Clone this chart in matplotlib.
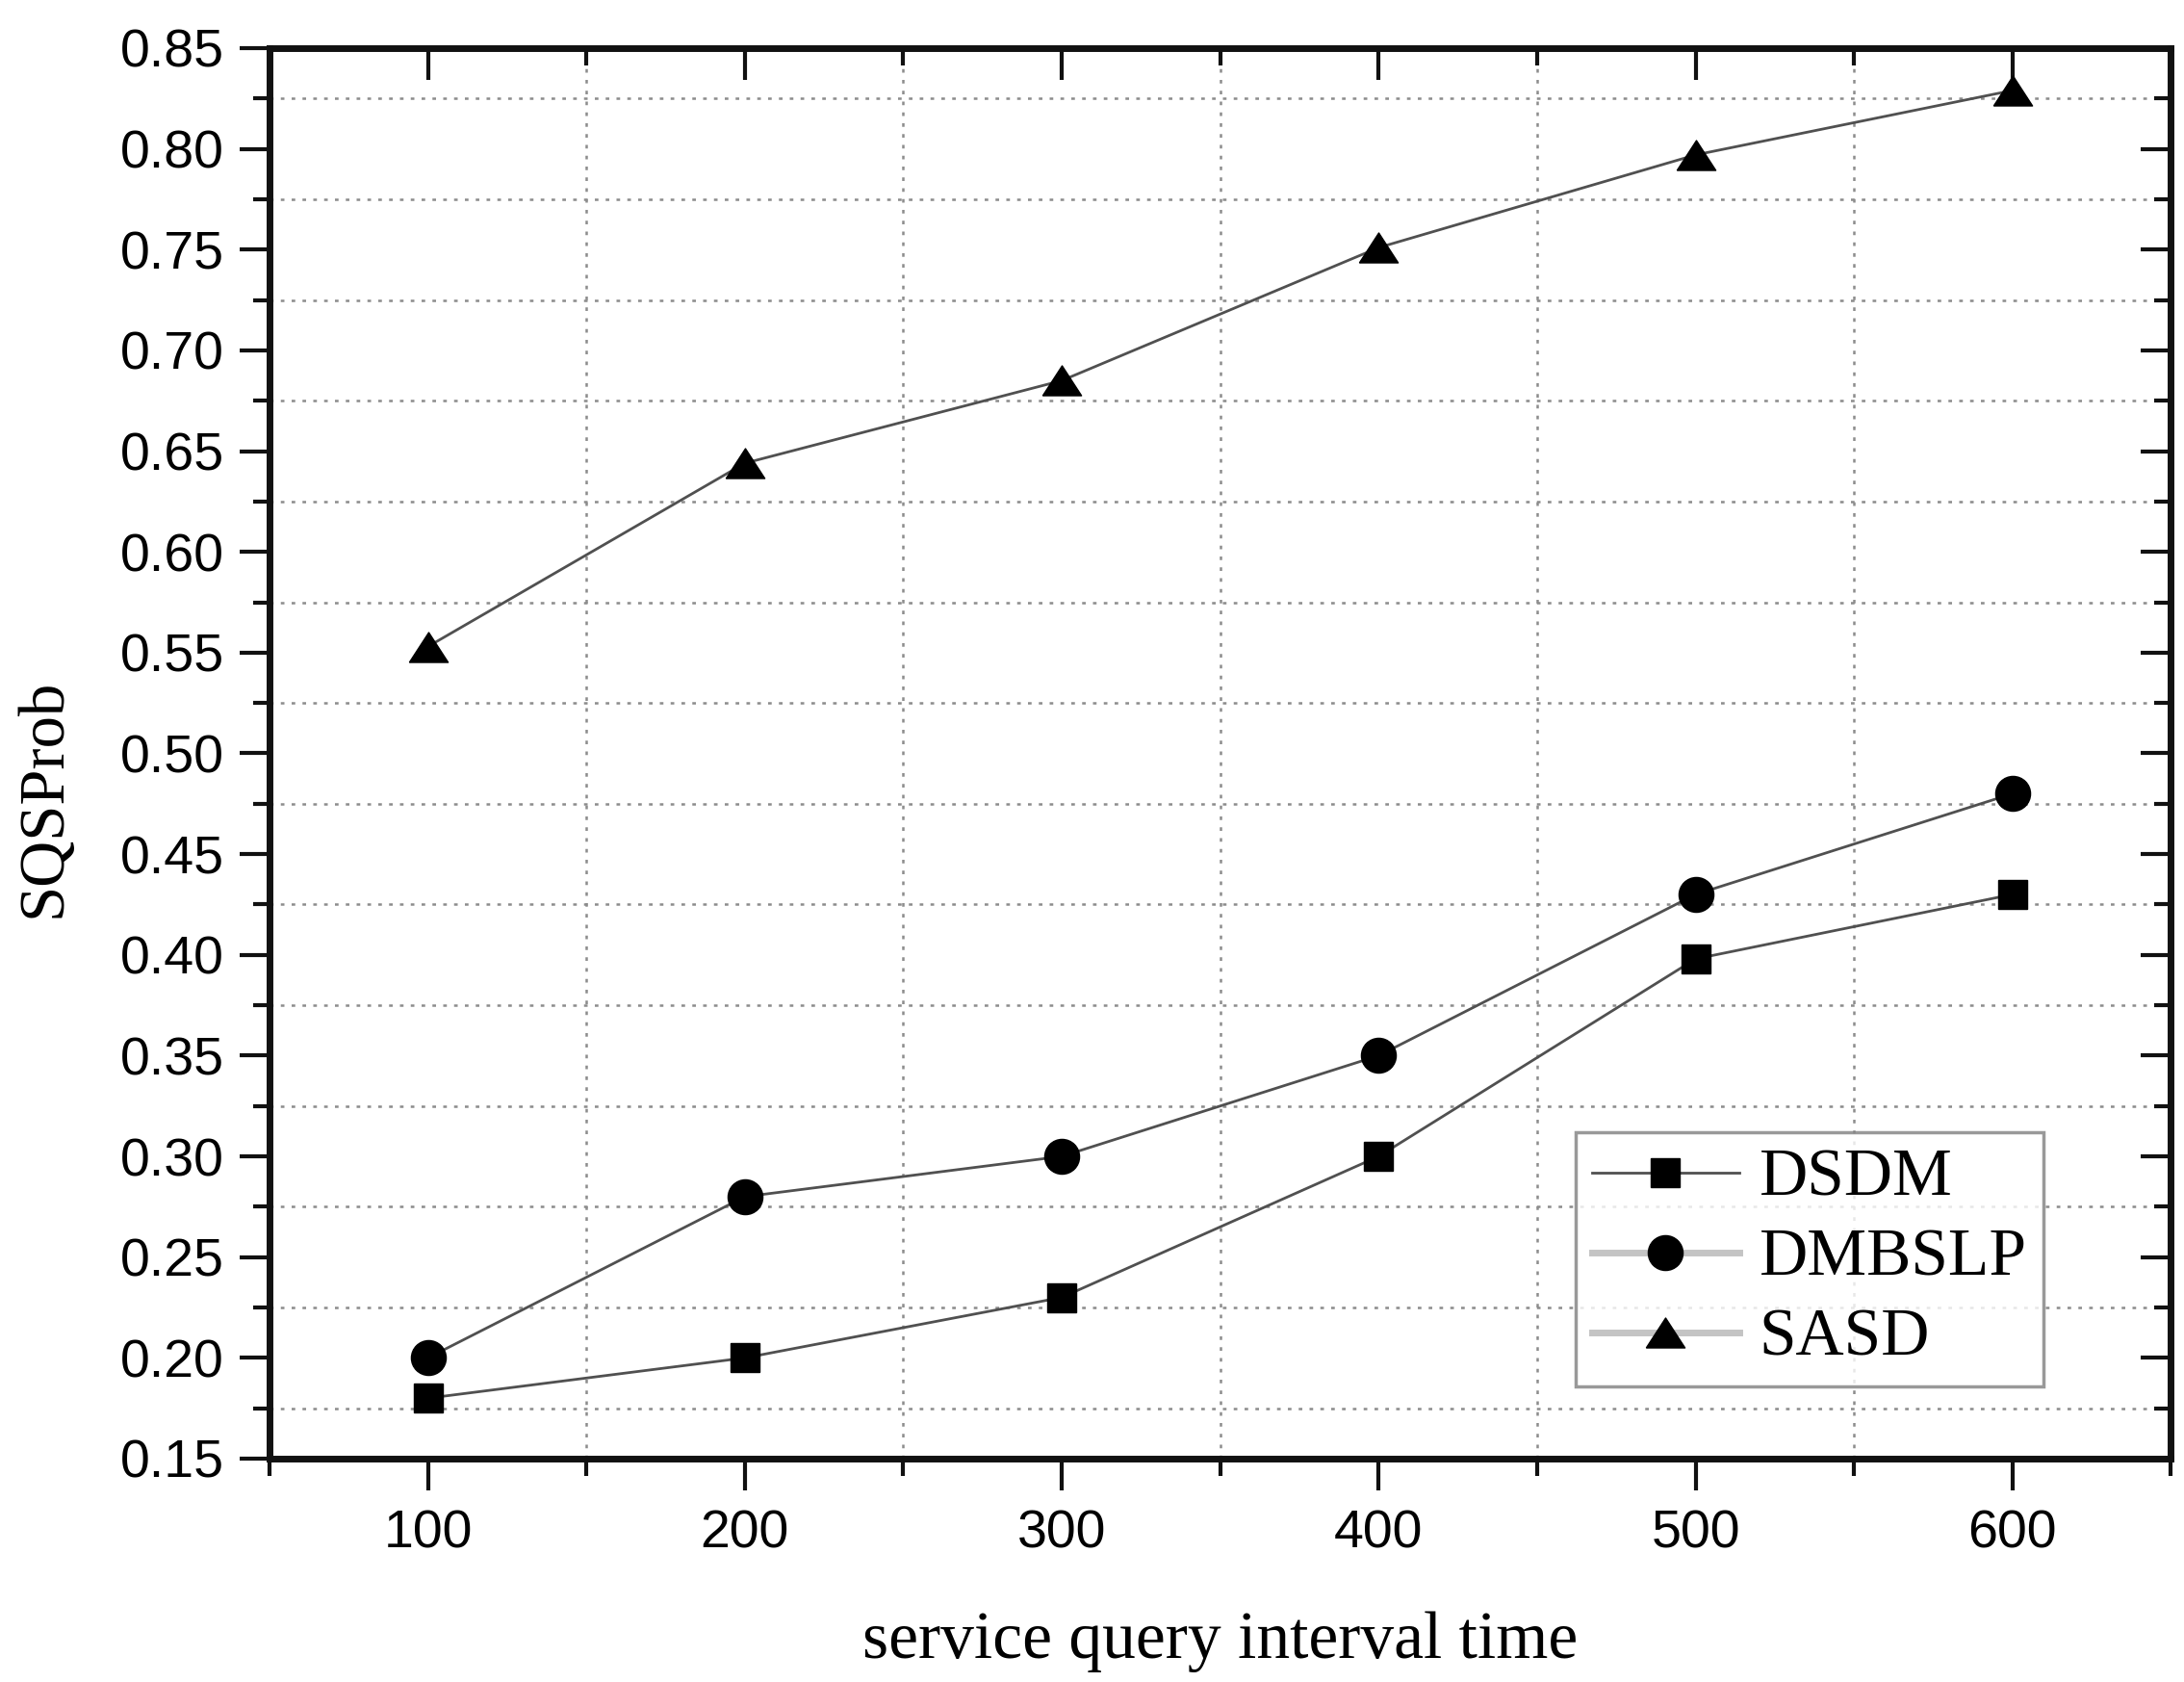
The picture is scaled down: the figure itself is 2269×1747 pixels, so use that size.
import matplotlib
matplotlib.use("Agg")
import matplotlib.pyplot as plt
from matplotlib.lines import Line2D
from matplotlib.ticker import MultipleLocator

# values
intervals = [100, 200, 300, 400, 500, 600]
dsdm = [0.18, 0.20, 0.23, 0.30, 0.398, 0.43]
dmbslp = [0.20, 0.28, 0.30, 0.35, 0.43, 0.48]
sasd = [0.553, 0.644, 0.685, 0.751, 0.797, 0.829]
series_names = ["DSDM", "DMBSLP", "SASD"]

sans = "Liberation Sans"
serif = "Liberation Serif"

# wide, short triangle like the Origin marker
tri = [(-1, -0.77), (1, -0.77), (0, 0.77), (-1, -0.77)]

fig = plt.figure(figsize=(22.69, 17.47), dpi=100)
ax = fig.add_axes([0.1234, 0.1328, 0.8706, 0.8386])

line_c = "#505050"
ax.plot(intervals, dsdm, color=line_c, lw=2, marker="s", ms=22,
        mfc="black", mec="black", zorder=3)
ax.plot(intervals, dmbslp, color=line_c, lw=2, marker="o", ms=26,
        mfc="black", mec="black", zorder=3)
ax.plot(intervals, sasd, color=line_c, lw=2, marker=tri, ms=29,
        mfc="black", mec="black", zorder=3)

ax.set_xlim(50, 650)
ax.set_ylim(0.15, 0.85)
ax.xaxis.set_major_locator(MultipleLocator(100))
ax.xaxis.set_minor_locator(MultipleLocator(50))
ax.yaxis.set_major_locator(MultipleLocator(0.05))
ax.yaxis.set_minor_locator(MultipleLocator(0.025))
ax.set_yticks([0.15 + 0.05 * i for i in range(15)])
ax.set_yticklabels([f"{0.15 + 0.05 * i:.2f}" for i in range(15)])

ax.grid(which="minor", color="#8c8c8c", lw=1.8, linestyle=(0, (1.5, 3)))
ax.grid(which="major", visible=False)

for s in ax.spines.values():
    s.set_linewidth(5)
    s.set_color("#111111")

ax.tick_params(axis="both", which="both", top=True, right=True,
               color="#111111", labelsize=40)
ax.tick_params(axis="x", which="major", direction="out", length=24, width=3, pad=14)
ax.tick_params(axis="x", which="minor", direction="out", length=13, width=3)
ax.tick_params(axis="y", which="major", direction="out", length=22, width=3, pad=12)
ax.tick_params(axis="y", which="minor", direction="out", length=12, width=3)
for lab in ax.get_xticklabels() + ax.get_yticklabels():
    lab.set_fontfamily(sans)

# top and right ticks point inward
for t in ax.xaxis.get_major_ticks() + ax.xaxis.get_minor_ticks():
    t.tick2line.set_marker(3)
for t in ax.yaxis.get_major_ticks() + ax.yaxis.get_minor_ticks():
    t.tick2line.set_marker(0)

ax.set_xlabel("service query interval time", fontfamily=serif, fontsize=50)
ax.xaxis.set_label_coords(0.5, -0.108)
ax.set_ylabel("SQSProb", fontfamily=serif, fontsize=48)
ax.yaxis.set_label_coords(-0.103, 0.468)

handles = [
    Line2D([], [], color="#505050", lw=2, marker="s", ms=22, mfc="black", mec="black"),
    Line2D([], [], color="#c4c4c4", lw=5, marker="o", ms=26, mfc="black", mec="black"),
    Line2D([], [], color="#c4c4c4", lw=5, marker=tri, ms=29, mfc="black", mec="black"),
]
leg = ax.legend(handles, series_names, loc="lower right",
                bbox_to_anchor=(0.933, 0.051), prop={"family": serif, "size": 50},
                frameon=True, fancybox=False, edgecolor="#808080",
                handlelength=2.2, handletextpad=0.3, labelspacing=0.28,
                borderpad=0.25, borderaxespad=0)
leg.get_frame().set_linewidth(2.5)

fig.savefig("out.png", dpi=100)
